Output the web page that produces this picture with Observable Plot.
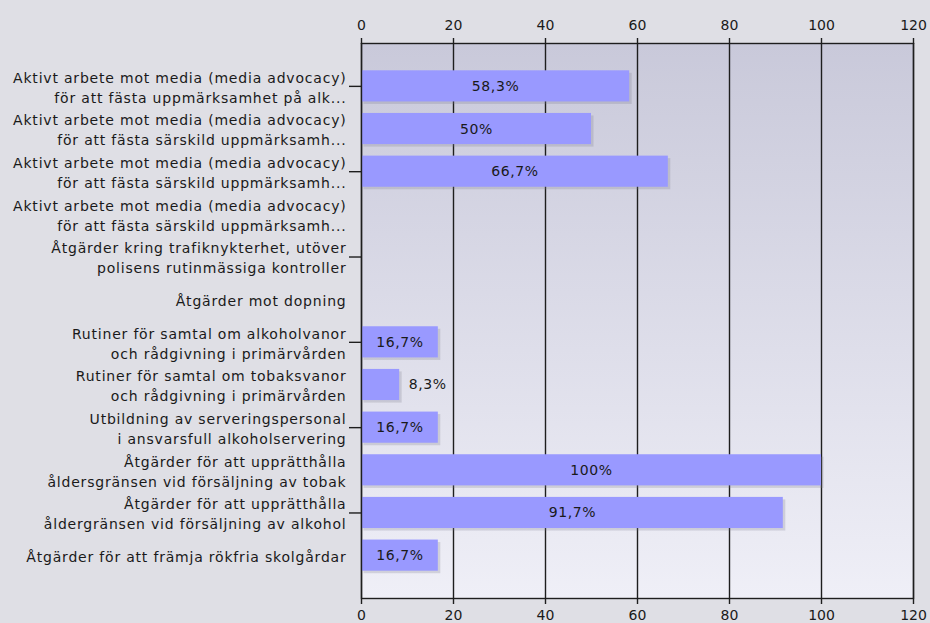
<!DOCTYPE html>
<html>
<head>
<meta charset="utf-8">
<script src="https://cdn.jsdelivr.net/npm/d3@7"></script>
<script src="https://cdn.jsdelivr.net/npm/@observablehq/plot@0.6"></script>
<style>
  html, body { margin: 0; padding: 0; background: #dfdfe5; }
  #chart svg { display: block; font-family: "DejaVu Sans", Verdana, sans-serif; }
  g[aria-label="y-axis tick label"] text { letter-spacing: 0.8px; }
  g[aria-label="text"] text { letter-spacing: 0.6px; }
</style>
</head>
<body>
<div id="chart"></div>
<script>
const categories = [
  "Aktivt arbete mot media (media advocacy)\nför att fästa uppmärksamhet på alk...",
  "Aktivt arbete mot media (media advocacy)\nför att fästa särskild uppmärksamh...",
  "Aktivt arbete mot media (media advocacy)\nför att fästa särskild uppmärksamh...",
  "Aktivt arbete mot media (media advocacy)\nför att fästa särskild uppmärksamh...",
  "Åtgärder kring trafiknykterhet, utöver\npolisens rutinmässiga kontroller",
  "Åtgärder mot dopning",
  "Rutiner för samtal om alkoholvanor\noch rådgivning i primärvården",
  "Rutiner för samtal om tobaksvanor\noch rådgivning i primärvården",
  "Utbildning av serveringspersonal\ni ansvarsfull alkoholservering",
  "Åtgärder för att upprätthålla\nåldersgränsen vid försäljning av tobak",
  "Åtgärder för att upprätthålla\nåldergränsen vid försäljning av alkohol",
  "Åtgärder för att främja rökfria skolgårdar"
];
const values = [58.3, 50, 66.7, 0, 0, 0, 16.7, 8.3, 16.7, 100, 91.7, 16.7];
const xTicks = [0, 20, 40, 60, 80, 100, 120];

const data = categories.map((c, i) => ({i, label: c, v: values[i]}));
const shown = data.filter(d => d.v > 0);
const fmt = v => String(v).replace(".", ",") + "%";
const idx = d3.range(categories.length);

const chart = Plot.plot({
  width: 930,
  height: 623,
  marginLeft: 361,
  marginRight: 17,
  marginTop: 43,
  marginBottom: 25,
  style: {background: "transparent", fontSize: "14px", color: "#1a1a1a"},
  x: {domain: [0, 120], axis: null, label: null},
  y: {domain: idx, type: "band", paddingInner: 0.27, paddingOuter: 0.64, round: false, axis: null, label: null},
  marks: [
    Plot.frame({fill: "url(#plotbg)", stroke: "none"}),
    Plot.gridX(xTicks, {stroke: "#1e1e1e", strokeOpacity: 1, strokeWidth: 1.4}),
    Plot.barX(shown, {x: "v", y: "i", fill: "#7a7a8a", fillOpacity: 0.25, dx: 2.5, dy: 2.5}),
    Plot.barX(shown, {x: "v", y: "i", fill: "#9999ff"}),
    Plot.text(shown.filter(d => d.v > 12), {x: d => d.v / 2, y: "i", text: d => fmt(d.v), fill: "#1a1a1a", fontSize: 14}),
    Plot.text(shown.filter(d => d.v <= 12), {x: "v", y: "i", text: d => fmt(d.v), fill: "#1a1a1a", fontSize: 14, textAnchor: "start", dx: 9}),
    Plot.frame({stroke: "#1e1e1e", strokeWidth: 1.4}),
    Plot.axisX({anchor: "top", ticks: xTicks, tickSize: 6, tickPadding: 8, fontSize: 14, stroke: "#1e1e1e", strokeWidth: 1.4, label: null}),
    Plot.axisX({anchor: "bottom", ticks: xTicks, tickSize: 6, tickPadding: 6, fontSize: 14, stroke: "#1e1e1e", strokeWidth: 1.4, label: null}),
    Plot.axisY({ticks: idx, tickSize: 0, tickPadding: 15, tickFormat: i => categories[i], lineHeight: 1.43, fontSize: 14, label: null}),
    Plot.axisY({ticks: idx.filter(i => i % 2 === 0), tickSize: 12, tickFormat: () => "", stroke: "#1e1e1e", strokeWidth: 1.4, label: null})
  ]
});

const ns = "http://www.w3.org/2000/svg";
const defs = document.createElementNS(ns, "defs");
defs.innerHTML = '<linearGradient id="plotbg" x1="0" y1="0" x2="0" y2="1">' +
  '<stop offset="0" stop-color="#c9c9da"/><stop offset="1" stop-color="#efeff7"/></linearGradient>';
chart.insertBefore(defs, chart.firstChild);
document.getElementById("chart").appendChild(chart);
</script>
</body>
</html>
